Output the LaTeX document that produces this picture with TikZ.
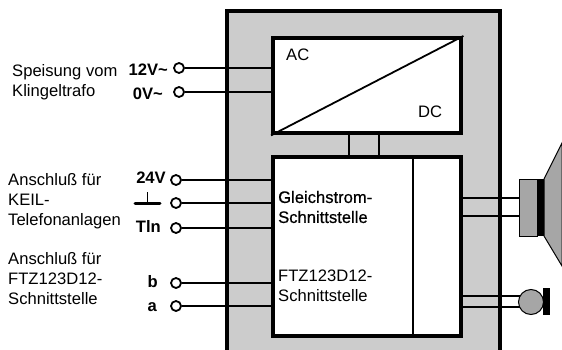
\documentclass[tikz,border=0pt]{standalone}
\usepackage{fontspec}
\setmainfont{Liberation Sans}
\begin{document}
\begin{tikzpicture}[x=1pt, y=-1pt, line join=miter,
	txt/.style={inner sep=0pt, align=left, font=\fontsize{16.6}{20}\selectfont},
	pin/.style={inner sep=0pt, font=\fontsize{16.6}{17}\selectfont\bfseries},
	term/.style={circle, draw, line width=1.8pt, fill=white, minimum size=10pt, inner sep=0pt},
	wire/.style={line width=1.8pt},
	block/.style={draw, line width=4.4pt, fill=white, inner sep=0pt, anchor=north west}]
	% Page
	\useasboundingbox (0,0) rectangle (562,350);

	% Housing, open at the bottom
	\fill[black!20] (227,11) rectangle (500,350);
	\draw[line width=3.8pt] (227,350) -- (227,11) -- (500,11) -- (500,350);

	% Blocks
	\node[block, minimum width=188pt, minimum height=95pt] (ACDC) at (271,36) {};
	\node[block, minimum width=188pt, minimum height=179pt] (IF) at (271,155) {};
	\draw[wire] (ACDC.south west) -- (ACDC.north east);
	\draw[line width=1.5pt] (413,155) -- (413,334);
	\coordinate (S1) at (349,131);
	\coordinate (S2) at (379,131);
	\draw[wire] (S1) -- (S1 |- IF.north);
	\draw[wire] (S2) -- (S2 |- IF.north);

	% Block texts
	\node[txt, anchor=west] (ac) at (286,55) {AC};
	\node[txt, anchor=west] (dc) at (418,112) {DC};
	\node[txt, anchor=west, text width=120pt] (gs) at (278,207) {\addfontfeature{FakeBold=0.6}Gleichstrom-\\Schnittstelle};
	\node[txt, anchor=west, text width=120pt] (ftz) at (278,286) {FTZ123D12-\\Schnittstelle};

	% Terminals
	\node[term] (t12) at (179,68) {};
	\node[term] (t0) at (179,92) {};
	\node[term] (t24) at (176,180) {};
	\node[term] (tm) at (176,203) {};
	\node[term] (tt) at (176,228) {};
	\node[term] (tb) at (176,283) {};
	\node[term] (ta) at (176,306) {};

	% Wires to the blocks
	\draw[wire] (t12) -- (t12 -| ACDC.west);
	\draw[wire] (t0) -- (t0 -| ACDC.west);
	\draw[wire] (t24) -- (t24 -| IF.west);
	\draw[wire] (tm) -- (tm -| IF.west);
	\draw[wire] (tt) -- (tt -| IF.west);
	\draw[wire] (tb) -- (tb -| IF.west);
	\draw[wire] (ta) -- (ta -| IF.west);

	% Terminal labels
	\node[pin, anchor=east] (l12) at (168,70) {12V\textasciitilde};
	\node[pin, anchor=east] (l0) at (163,94) {0V\textasciitilde};
	\node[pin, anchor=east] (l24) at (166,178) {24V};
	\node[pin, anchor=east] (lt) at (161,226) {Tln};
	\node[pin, anchor=east] (lb) at (158,282) {b};
	\node[pin, anchor=east] (la) at (157,307) {a};

	% Ground symbol
	\coordinate (G1) at (135,203);
	\coordinate (G2) at (160,203);
	\coordinate (G3) at (147,192);
	\draw[line width=3pt, line cap=round] (G1) -- (G2);
	\draw[line width=1pt] (G3) -- (G3 |- G1);

	% Left descriptions
	\node[txt, anchor=north west] (d1) at (12,64) {Speisung vom\\Klingeltrafo};
	\node[txt, anchor=north west] (d2) at (8,173) {Anschluß für\\KEIL-\\Telefonanlagen};
	\node[txt, anchor=north west] (d3) at (8,252) {Anschluß für\\FTZ123D12-\\Schnittstelle};

	% Speaker
	\coordinate (SP1) at (519,198);
	\coordinate (SP2) at (519,216);
	\draw[wire] (SP1 -| IF.east) -- (SP1);
	\draw[wire] (SP2 -| IF.east) -- (SP2);
	\draw[fill=black!35, line width=1pt] (519,179) rectangle (537,236);
	\fill[black] (537,179) rectangle (544,236);
	\draw[fill=black!35, line width=1pt] (544,179) -- (562,143) -- (562,266) -- (544,236) -- cycle;

	% Microphone
	\coordinate (MI1) at (530,296);
	\coordinate (MI2) at (530,307);
	\draw[wire] (MI1 -| IF.east) -- (MI1);
	\draw[wire] (MI2 -| IF.east) -- (MI2);
	\draw[fill=black!35, line width=1pt] (531,302) circle (12.5);
	\fill[black] (543,288) rectangle (550,315);
\end{tikzpicture}
\end{document}
